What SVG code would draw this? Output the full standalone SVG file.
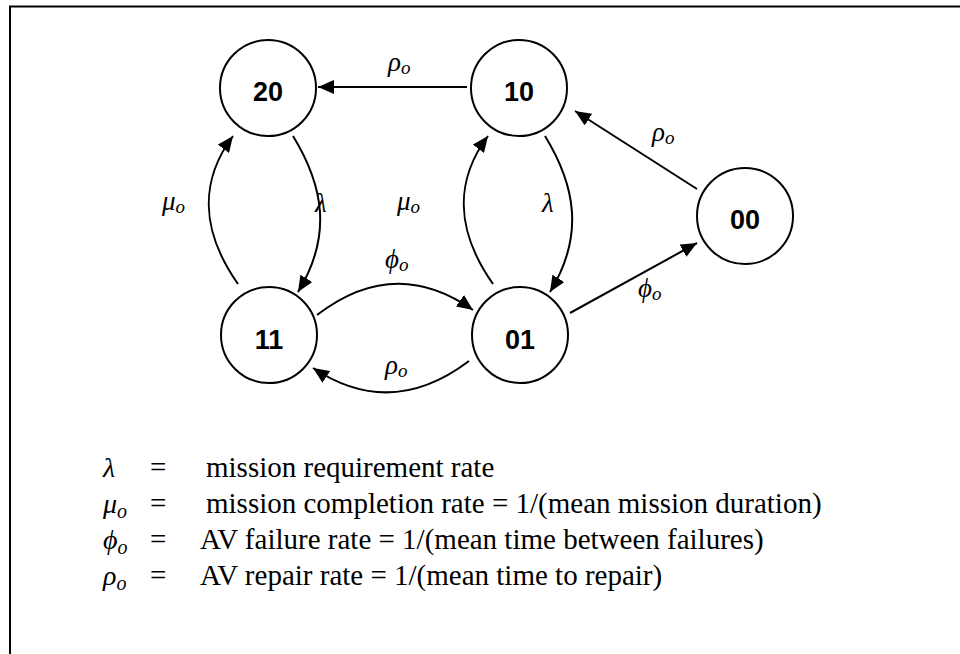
<svg xmlns="http://www.w3.org/2000/svg" width="960" height="654" viewBox="0 0 960 654">
<defs>
<marker id="arr" markerUnits="userSpaceOnUse" markerWidth="16" markerHeight="14" refX="16" refY="7" orient="auto">
<path d="M0,0 L16,7 L0,14 z" fill="#000"/>
</marker>
<style>
.node circle{fill:#fff;stroke:#000;stroke-width:2}
.node text{font-family:"Liberation Sans",Arial,sans-serif;font-weight:bold;font-size:27px;text-anchor:middle}
.edge{fill:none;stroke:#000;stroke-width:2;marker-end:url(#arr)}
.lbl{font-family:"Liberation Serif","DejaVu Serif",serif;font-style:italic;font-size:27px}
.sub{font-size:19px}
.lgs{font-family:"Liberation Serif","DejaVu Serif",serif;font-style:italic;font-size:28px}
.lsub{font-size:20px}
.leg{font-family:"Liberation Serif","Times New Roman",serif;font-size:29px}
</style>
</defs>
<rect x="0" y="0" width="960" height="654" fill="#fff"/>
<g id="frame" stroke="#000" stroke-width="2" fill="none">
<line x1="9" y1="6.5" x2="960" y2="6.5"/>
<line x1="10" y1="6" x2="10" y2="654"/>
</g>
<g id="connectors">
<path class="edge" d="M467,87 L318,87"/>
<path class="edge" d="M697,189 L575,111"/>
<path class="edge" d="M570,313 L697,243"/>
<path class="edge" d="M545,136 C575,185 585,235 550,292"/>
<path class="edge" d="M493,284 C455,230 455,180 488,136"/>
<path class="edge" d="M293,136 C323,185 333,235 298,292"/>
<path class="edge" d="M238,284 C200,230 200,180 233,136"/>
<path class="edge" d="M317,315 Q395,255 473,310"/>
<path class="edge" d="M469,361 Q391,420 313,368"/>
</g>
<g id="edge-labels" class="lbl">
<text x="388" y="71">ρ<tspan class="sub" dy="3">o</tspan></text>
<text x="652" y="141">ρ<tspan class="sub" dy="3">o</tspan></text>
<text x="638" y="297">ϕ<tspan class="sub" dy="3">o</tspan></text>
<text x="542" y="212">λ</text>
<text x="397" y="210">μ<tspan class="sub" dy="3">o</tspan></text>
<text x="315" y="212">λ</text>
<text x="162" y="210">μ<tspan class="sub" dy="3">o</tspan></text>
<text x="385" y="268">ϕ<tspan class="sub" dy="3">o</tspan></text>
<text x="385" y="374">ρ<tspan class="sub" dy="3">o</tspan></text>
</g>
<g id="n20" class="node"><circle cx="268" cy="88" r="48"/><text x="268" y="101">20</text></g>
<g id="n10" class="node"><circle cx="519" cy="88" r="48"/><text x="519" y="101">10</text></g>
<g id="n00" class="node"><circle cx="745" cy="216" r="48"/><text x="745" y="229">00</text></g>
<g id="n11" class="node"><circle cx="269" cy="335" r="48"/><text x="269" y="349">11</text></g>
<g id="n01" class="node"><circle cx="520" cy="335" r="48"/><text x="520" y="349">01</text></g>
<g id="legend">
<text class="lgs" x="103" y="477">λ</text>
<text class="lgs" x="103" y="513">μ<tspan class="lsub" dy="5">o</tspan></text>
<text class="lgs" x="103" y="549">ϕ<tspan class="lsub" dy="5">o</tspan></text>
<text class="lgs" x="103" y="585">ρ<tspan class="lsub" dy="5">o</tspan></text>
<text class="leg" x="150" y="477">=</text>
<text class="leg" x="150" y="513">=</text>
<text class="leg" x="150" y="549">=</text>
<text class="leg" x="150" y="585">=</text>
<text class="leg" x="206" y="477">mission requirement rate</text>
<text class="leg" x="206" y="513">mission completion rate = 1/(mean mission duration)</text>
<text class="leg" x="200" y="549">AV failure rate = 1/(mean time between failures)</text>
<text class="leg" x="200" y="585">AV repair rate = 1/(mean time to repair)</text>
</g>
</svg>
